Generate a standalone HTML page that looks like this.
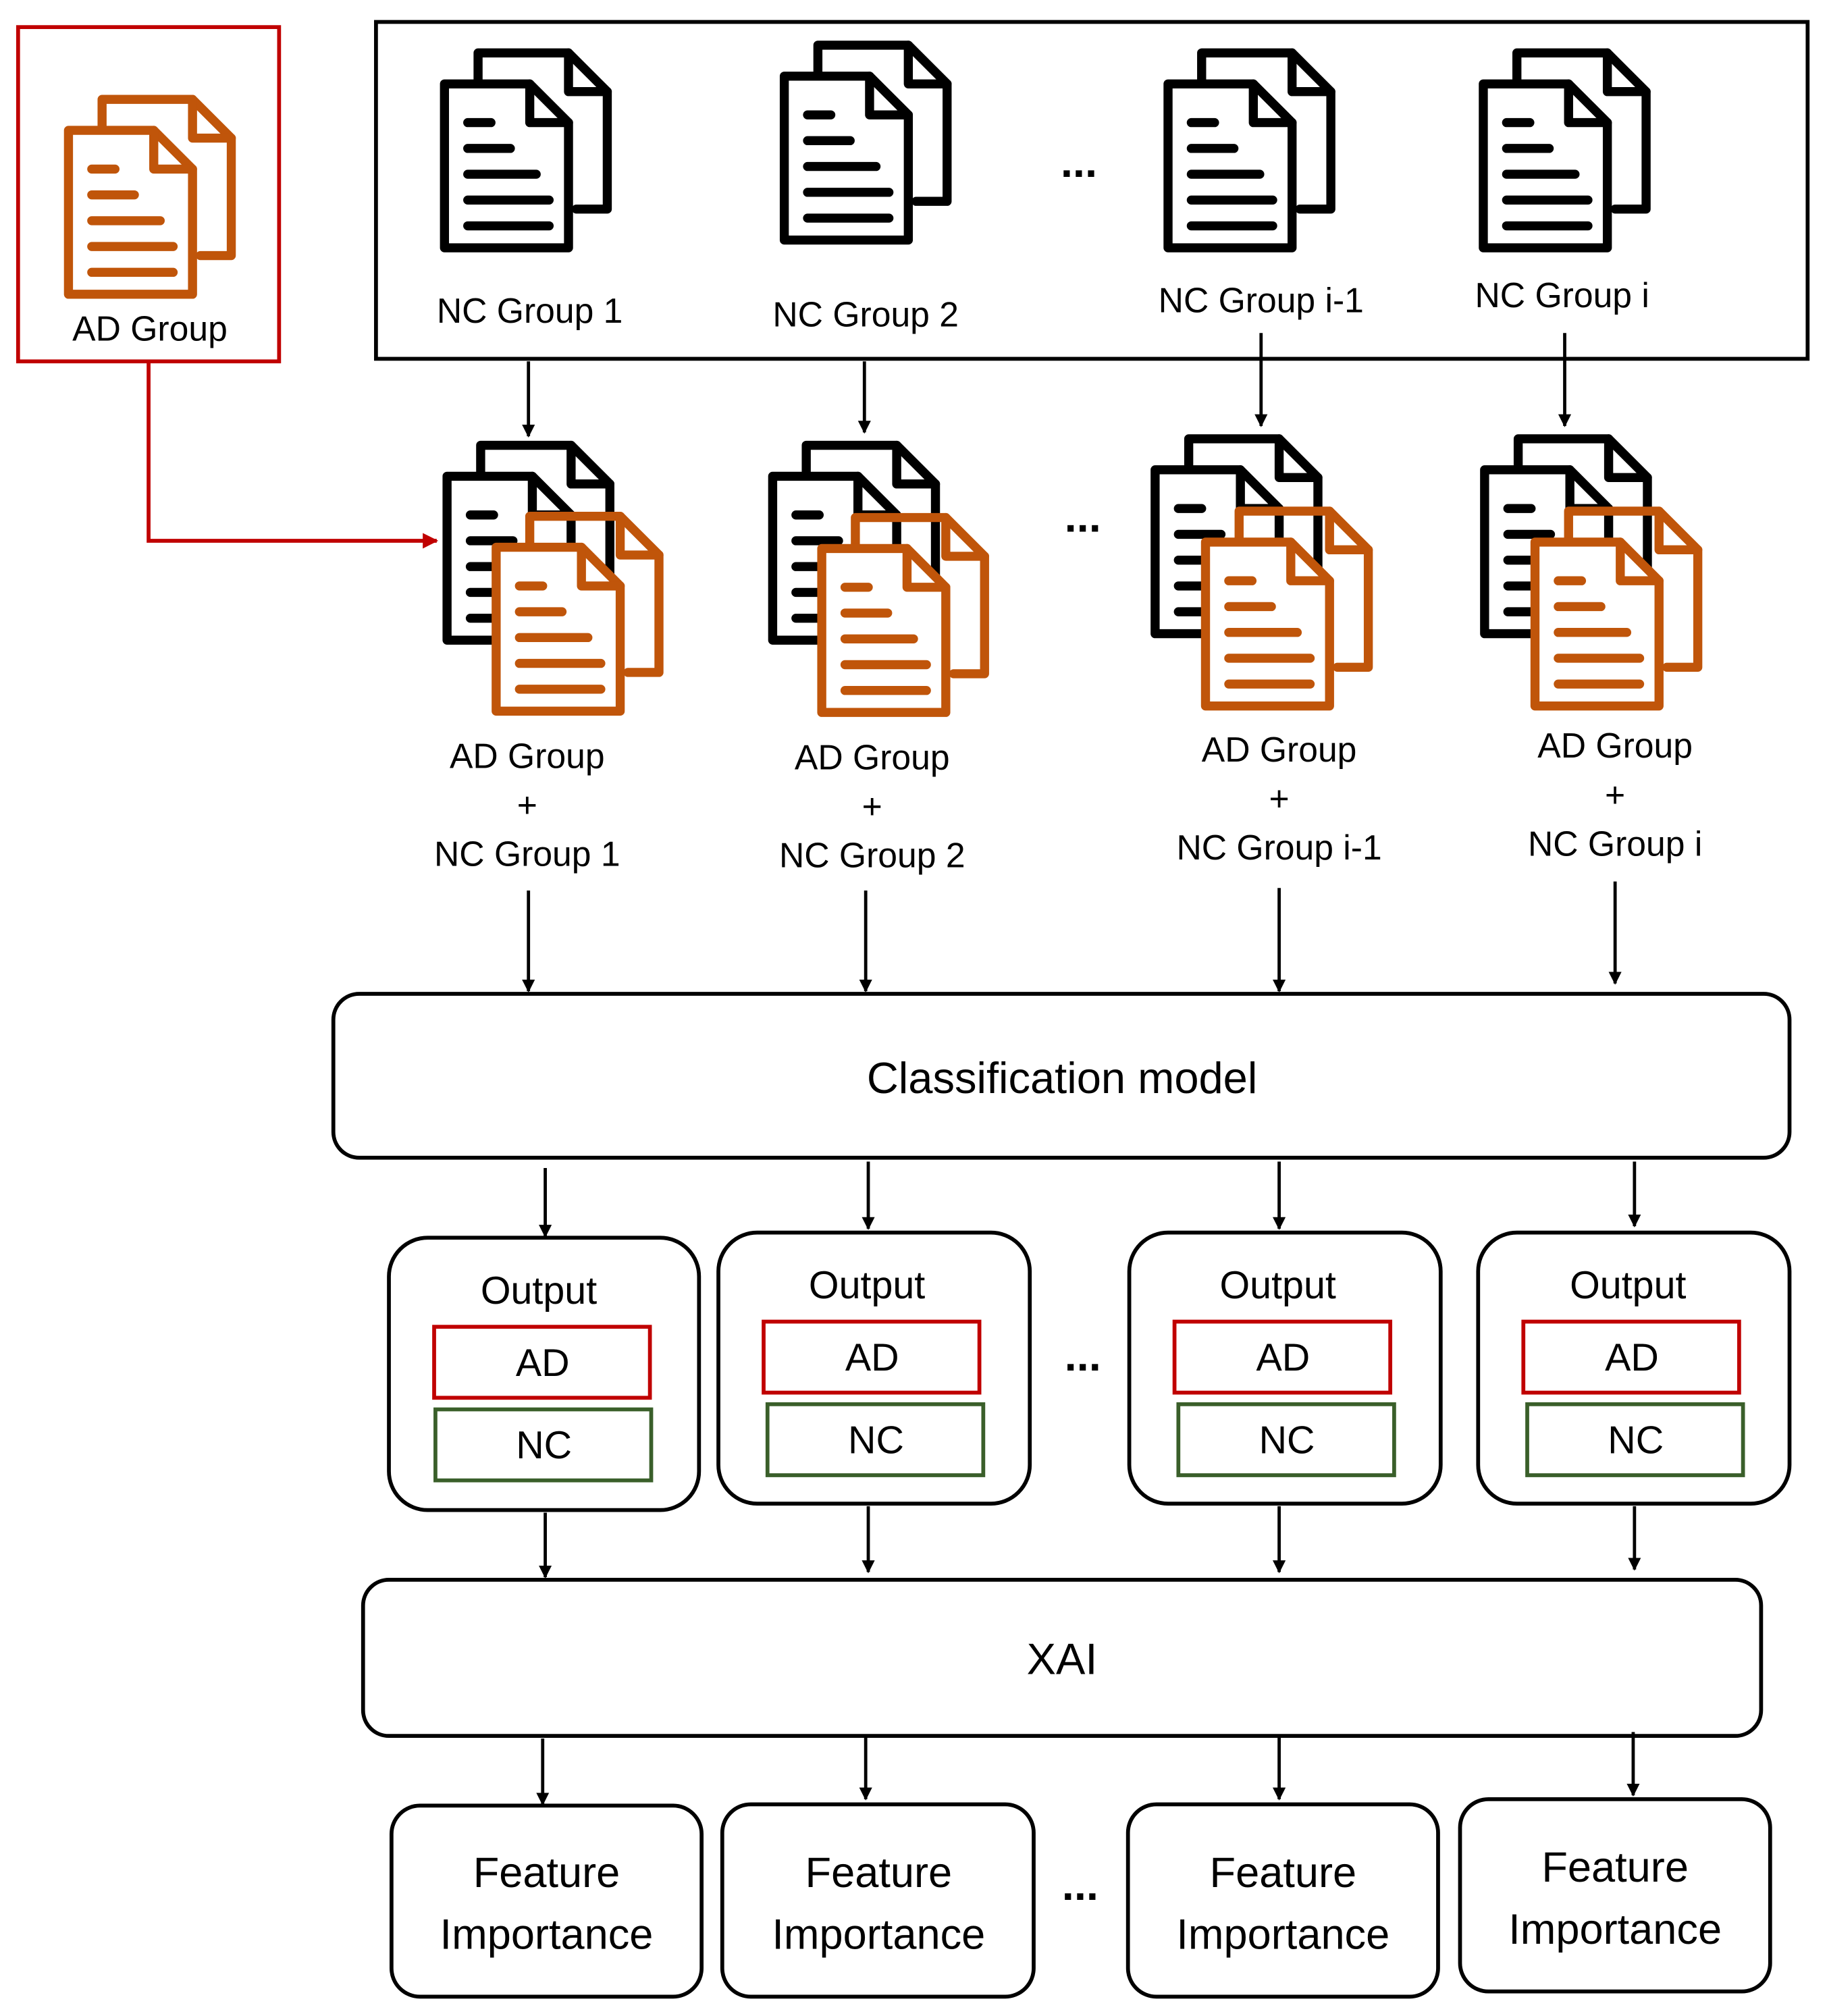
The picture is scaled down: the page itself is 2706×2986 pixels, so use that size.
<!DOCTYPE html>
<html><head><meta charset="utf-8"><style>
html,body{margin:0;padding:0;background:#fff}
svg{display:block}
text{font-family:"Liberation Sans",sans-serif;fill:#000}
.dots{font-weight:bold;font-size:34px}
</style></head><body>
<svg width="2706" height="2986" viewBox="0 0 1414 1562" preserveAspectRatio="none" xmlns="http://www.w3.org/2000/svg">
<defs>
<g id="doc" fill="none" stroke-width="7" stroke-linejoin="round" stroke-linecap="round">
  <path d="M30,28 V4 H100 L130,34 V125 H106"/>
  <path d="M100,4 V34 H130"/>
  <path d="M4,28 H70 L100,58 V155 H4 Z" fill="#fff"/>
  <path d="M70,28 V58 H100"/>
  <path d="M22,58 H40 M22,78 H55 M22,98 H75 M22,118 H85 M22,138 H85"/>
</g>
<marker id="ah" viewBox="0 0 10 10" refX="9" refY="5" markerWidth="4" markerHeight="4" orient="auto"><path d="M0,0 L10,5 L0,10 z" fill="#000"/></marker>
<marker id="ahr" viewBox="0 0 10 10" refX="9" refY="5" markerWidth="4" markerHeight="4" orient="auto"><path d="M0,0 L10,5 L0,10 z" fill="#c00000"/></marker>
</defs>

<rect x="14" y="21" width="202" height="259" fill="none" stroke="#c00000" stroke-width="3"/>
<use href="#doc" x="49" y="73" stroke="#c0550a"/>
<text x="116" y="264" font-size="27" text-anchor="middle">AD Group</text>
<path d="M115,280 V419 H338" fill="none" stroke="#c00000" stroke-width="3" marker-end="url(#ahr)"/>

<rect x="291" y="17" width="1108" height="261" fill="none" stroke="#000" stroke-width="3"/>
<use href="#doc" x="340" y="37" stroke="#000"/>
<use href="#doc" x="603" y="31" stroke="#000"/>
<use href="#doc" x="900" y="37" stroke="#000"/>
<use href="#doc" x="1144" y="37" stroke="#000"/>
<text x="410" y="250" font-size="27" text-anchor="middle">NC Group 1</text>
<text x="670" y="253" font-size="27" text-anchor="middle">NC Group 2</text>
<text x="976" y="242" font-size="27" text-anchor="middle">NC Group i-1</text>
<text x="1209" y="238" font-size="27" text-anchor="middle">NC Group i</text>
<text x="835" y="137" class="dots" text-anchor="middle">...</text>

<g stroke="#000" stroke-width="2.5" fill="none" marker-end="url(#ah)">
<path d="M409,280 V338"/><path d="M669,280 V335"/><path d="M976,258 V330"/><path d="M1211,258 V330"/>
<path d="M409,690 V768"/><path d="M670,690 V768"/><path d="M990,688 V768"/><path d="M1250,683 V762"/>
<path d="M422,905 V958"/><path d="M672,900 V952"/><path d="M990,900 V952"/><path d="M1265,900 V950"/>
<path d="M422,1172 V1222"/><path d="M672,1167 V1218"/><path d="M990,1167 V1218"/><path d="M1265,1167 V1216"/>
<path d="M420,1347 V1398"/><path d="M670,1345 V1394"/><path d="M990,1345 V1394"/><path d="M1264,1342 V1391"/>
</g>

<use href="#doc" x="342" y="341" stroke="#000"/>
<use href="#doc" x="380" y="396" stroke="#c0550a"/>
<use href="#doc" x="594" y="341" stroke="#000"/>
<use href="#doc" x="632" y="397" stroke="#c0550a"/>
<use href="#doc" x="890" y="336" stroke="#000"/>
<use href="#doc" x="929" y="392" stroke="#c0550a"/>
<use href="#doc" x="1145" y="336" stroke="#000"/>
<use href="#doc" x="1184" y="392" stroke="#c0550a"/>
<text x="838" y="412" class="dots" text-anchor="middle">...</text>

<g font-size="27" text-anchor="middle">
<text x="408" y="595">AD Group</text><text x="408" y="633">+</text><text x="408" y="671">NC Group 1</text>
<text x="675" y="596">AD Group</text><text x="675" y="634">+</text><text x="675" y="672">NC Group 2</text>
<text x="990" y="590">AD Group</text><text x="990" y="628">+</text><text x="990" y="666">NC Group i-1</text>
<text x="1250" y="587">AD Group</text><text x="1250" y="625">+</text><text x="1250" y="663">NC Group i</text>
</g>

<rect x="258" y="770" width="1127" height="127" rx="20" fill="none" stroke="#000" stroke-width="3"/>
<text x="822" y="847" font-size="34" text-anchor="middle">Classification model</text>

<g stroke-width="3" fill="none">
<rect x="301" y="959" width="240" height="211" rx="30" stroke="#000"/>
<rect x="556" y="955" width="241" height="210" rx="30" stroke="#000"/>
<rect x="874" y="955" width="241" height="210" rx="30" stroke="#000"/>
<rect x="1144" y="955" width="241" height="210" rx="30" stroke="#000"/>
<rect x="336" y="1028" width="167" height="55" stroke="#c00000"/>
<rect x="337" y="1092" width="167" height="55" stroke="#3a5f2a"/>
<rect x="591" y="1024" width="167" height="55" stroke="#c00000"/>
<rect x="594" y="1088" width="167" height="55" stroke="#3a5f2a"/>
<rect x="909" y="1024" width="167" height="55" stroke="#c00000"/>
<rect x="912" y="1088" width="167" height="55" stroke="#3a5f2a"/>
<rect x="1179" y="1024" width="167" height="55" stroke="#c00000"/>
<rect x="1182" y="1088" width="167" height="55" stroke="#3a5f2a"/>
</g>
<g font-size="30" text-anchor="middle">
<text x="417" y="1010">Output</text><text x="420" y="1066">AD</text><text x="421" y="1130">NC</text>
<text x="671" y="1006">Output</text><text x="675" y="1062">AD</text><text x="678" y="1126">NC</text>
<text x="989" y="1006">Output</text><text x="993" y="1062">AD</text><text x="996" y="1126">NC</text>
<text x="1260" y="1006">Output</text><text x="1263" y="1062">AD</text><text x="1266" y="1126">NC</text>
</g>
<text x="838" y="1062" class="dots" text-anchor="middle">...</text>

<rect x="281" y="1224" width="1082" height="121" rx="20" fill="none" stroke="#000" stroke-width="3"/>
<text x="822" y="1297" font-size="34" text-anchor="middle">XAI</text>

<g stroke="#000" stroke-width="3" fill="none">
<rect x="303" y="1399" width="240" height="148" rx="22"/>
<rect x="559" y="1398" width="241" height="149" rx="22"/>
<rect x="873" y="1398" width="240" height="149" rx="22"/>
<rect x="1130" y="1394" width="240" height="149" rx="22"/>
</g>
<g font-size="33" text-anchor="middle">
<text x="423" y="1462">Feature</text><text x="423" y="1510">Importance</text>
<text x="680" y="1462">Feature</text><text x="680" y="1510">Importance</text>
<text x="993" y="1462">Feature</text><text x="993" y="1510">Importance</text>
<text x="1250" y="1458">Feature</text><text x="1250" y="1506">Importance</text>
</g>
<text x="836" y="1472" class="dots" text-anchor="middle">...</text>
</svg>
</body></html>
